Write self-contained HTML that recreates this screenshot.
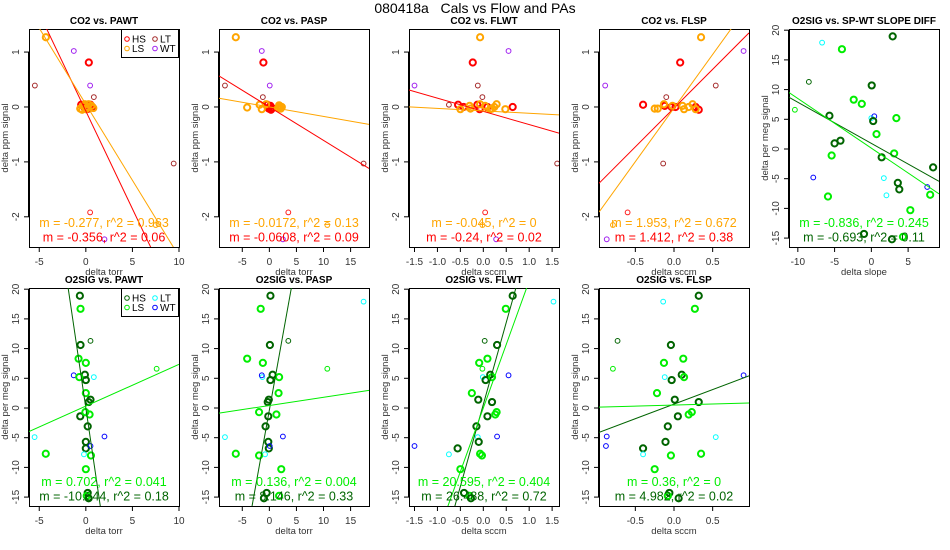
<!DOCTYPE html>
<html><head><meta charset="utf-8"><style>
html,body{margin:0;padding:0;background:#fff;width:950px;height:550px;overflow:hidden;}
svg{display:block;font-family:"Liberation Sans",Arial,sans-serif;overflow:hidden;}
</style></head><body>
<svg id="chart" width="950" height="550" viewBox="0 0 950 550" xmlns="http://www.w3.org/2000/svg">
<rect width="950" height="550" fill="#fff"/>
<text x="475" y="13" font-size="14" text-anchor="middle" fill="#000" style="white-space:pre" xml:space="preserve">080418a   Cals vs Flow and PAs</text>
</svg>
<script>
// ---- data arrays (groups: H=HS thick, L=LS thick, T=LT thin, W=WT thin, h/l thin HS/LS) ----
const p1x=[-4.29,-1.29,0.32,-5.47,0.46,0.86,-0.2,-0.5,-0.2,0.3,0.7,0.5,0.1,-0.6,-0.3,-0.1,0.0,0.3,0.6,0.8,-0.4,0.2,9.43,0.46,7.5,2.0];
const p1y=[1.27,1.02,0.81,0.39,0.39,0.18,0.05,0.04,0,-0.03,0,0.04,-0.04,-0.03,0.02,0.05,-0.04,0.05,0.02,-0.02,-0.05,0,-1.03,-1.92,-2.15,-2.41];
const p1g=['L','W','H','T','W','T','T','H','H','H','H','H','H','L','L','L','L','L','L','L','L','L','T','h','l','W'];
const p2x=[-6.2,-1.4,-1.1,-8.2,0.07,-1.2,-0.3,-0.4,-0.1,0.2,0.5,0.0,0.3,-1.8,-1.4,1.8,2.1,1.6,-0.6,-4.1,2.3,1.9,17.4,3.5,10.7,2.5];
const p2y=[1.27,1.02,0.81,0.39,0.39,0.18,0.05,0.04,-0.03,0.02,-0.02,0,-0.05,0.04,-0.04,0.03,-0.03,-0.02,0.05,-0.01,0,0,-1.03,-1.92,-2.15,-2.41];
const p2g=p1g;
const p3x=[-0.07,0.55,-0.23,-1.5,-0.12,-0.02,-0.75,-0.55,-0.43,-0.13,-0.08,0.09,0.64,-0.5,-0.3,-0.28,-0.07,0.04,0.15,0.24,0.29,0.48,0.19,0.04,1.61,-0.02,0.28];
const p3y=[1.27,1.02,0.81,0.39,0.39,0.18,0.04,0.04,0,0.04,-0.04,0,0,-0.04,0.02,-0.03,0.05,0.02,-0.04,0,0.05,-0.04,-0.03,-1.92,-1.03,-2.15,-2.41];
const p3g=['L','W','H','W','T','T','T','H','H','H','H','H','H','L','L','L','L','L','L','L','L','L','L','h','T','l','W'];
const p4x=[0.35,0.9,0.08,-0.89,0.54,-0.1,-0.4,-0.12,-0.03,0.02,0.28,0.32,-0.25,-0.21,-0.13,-0.02,0.11,0.19,0.24,0.28,0.13,-0.14,-0.6,-0.79,-0.87];
const p4y=[1.27,1.02,0.81,0.39,0.39,0.18,0.04,0.02,0,0,0,-0.05,-0.03,-0.03,0.05,0.02,0.02,0,0.05,-0.04,-0.04,-1.03,-1.92,-2.15,-2.41];
const p4g=['L','W','H','W','T','T','H','H','H','H','H','H','L','L','L','L','L','L','L','L','L','T','h','l','W'];
const p5x=[2.9,-6.7,-4.0,-8.5,0.05,-2.4,-1.3,-10.4,-5.7,0,0.4,0.25,3.4,0.7,-4.2,-5.0,-5.4,1.4,3.1,8.4,-7.9,1.7,3.6,3.8,7.6,2.05,8.0,-5.9,5.3,-1.0,4.3,2.8];
const p5y=[18.96,17.9,16.8,11.3,10.7,8.3,7.6,6.6,5.6,5.2,5.5,4.7,5.2,2.5,1.4,0.95,-1.1,-1.4,-0.75,-3.1,-4.8,-4.9,-5.7,-6.8,-6.4,-7.8,-7.7,-8.0,-10.3,-14.3,-14.8,-15.2];
const p5g=['H','T','L','h','H','L','L','l','H','T','W','H','L','L','H','H','L','H','L','H','W','T','H','H','W','T','L','L','L','H','L','H'];
const o2y=[18.9,16.7,17.9,11.3,10.6,8.3,7.6,6.6,5.2,5.5,5.6,4.7,5.2,2.5,1.4,1.0,-1.4,-0.7,-1.1,-3.1,-4.9,-4.8,-5.7,-6.8,-6.4,-7.8,-7.7,-8.0,-10.3,-14.3,-14.8,-15.2];
const o2g=['H','L','T','h','H','L','L','l','T','W','H','H','L','L','H','H','H','L','L','H','T','W','H','H','W','T','L','L','L','H','L','H'];
const p6x=[-0.64,-0.57,-20,0.5,-0.57,-0.78,0,7.6,0.86,-1.3,-0.1,0,-0.7,0,0.5,0.3,-0.6,-0.05,0.4,0.2,-5.5,2.0,0,0,0.5,-0.2,-4.3,0.55,0,0.2,0.1,0.3];
const p7x=[0.2,-1.6,17.4,3.5,0.1,-4.1,-1.2,10.7,-1.3,-1.4,0.6,0.2,1.8,1.7,-0.1,-0.3,-0.2,-1.9,1.3,-0.7,-8.2,2.5,-0.2,-0.1,0.07,-0.8,-6.2,-1.9,2.2,-0.5,1.8,-1.0];
const p8x=[0.64,0.49,1.53,0.03,0.3,0.09,-0.09,-0.02,-0.01,0.55,0.15,0.05,0.19,-0.25,-0.11,0.19,0.09,0.29,0.26,-0.15,-0.12,0.3,-0.1,-0.56,-1.5,-0.75,-0.07,-0.03,-0.5,-0.42,-0.3,-0.27];
const p9x=[0.32,0.27,-0.14,-0.73,-0.04,0.12,-0.13,-0.79,-0.12,0.9,0.1,-0.03,0.13,-0.22,0.01,0.32,0.05,0.23,0.19,-0.08,0.54,-0.87,-0.11,-0.4,-0.88,-0.4,0.35,-0.04,-0.25,-0.06,-0.08,0.06];
// regression lines [slope, intercept]
const fitLS=[[-0.277,0.05],[-0.0172,0.0],[-0.045,-0.07],[1.953,-0.02],[-0.836,0.14],[0.702,0.32],[0.138,0.42],[21.4,0.0],[0.35,0.49]];
const fitHS=[[-0.356,-0.075],[-0.0608,0.0],[-0.24,-0.08],[1.412,-0.02],[-0.693,0.94],[-10.644,0.0],[5.06,-0.34],[27.6,0.6],[4.9,0.65]];
const txtLS=['m = -0.277, r^2 = 0.963','m = -0.0172, r^2 = 0.13','m = -0.045, r^2 = 0','m = 1.953, r^2 = 0.672','m = -0.836, r^2 = 0.245','m = 0.702, r^2 = 0.041','m = 0.136, r^2 = 0.004','m = 20.595, r^2 = 0.404','m = 0.36, r^2 = 0'];
const txtHS=['m = -0.356, r^2 = 0.06','m = -0.0608, r^2 = 0.09','m = -0.24, r^2 = 0.02','m = 1.412, r^2 = 0.38','m = -0.693, r^2 = 0.11','m = -10.644, r^2 = 0.18','m = 8.146, r^2 = 0.33','m = 26.488, r^2 = 0.72','m = 4.982, r^2 = 0.02'];
const titles=['CO2 vs. PAWT','CO2 vs. PASP','CO2 vs. FLWT','CO2 vs. FLSP','O2SIG vs. SP-WT SLOPE DIFF','O2SIG vs. PAWT','O2SIG vs. PASP','O2SIG vs. FLWT','O2SIG vs. FLSP'];
const xlabels=['delta torr','delta torr','delta sccm','delta sccm','delta slope','delta torr','delta torr','delta sccm','delta sccm'];
const xticks=[[-5,0,5,10],[-5,0,5,10,15],[-1.5,-1,-0.5,0,0.5,1,1.5],[-0.5,0,0.5],[-10,-5,0,5],[-5,0,5,10],[-5,0,5,10,15],[-1.5,-1,-0.5,0,0.5,1,1.5],[-0.5,0,0.5]];
const xtickLabels=[['-5','0','5','10'],['-5','0','5','10','15'],['-1.5','-1.0','-0.5','0.0','0.5','1.0','1.5'],['-0.5','0.0','0.5'],['-10','-5','0','5'],['-5','0','5','10'],['-5','0','5','10','15'],['-1.5','-1.0','-0.5','0.0','0.5','1.0','1.5'],['-0.5','0.0','0.5']];
const yticksCO2=[-2,-1,0,1];
const yticksO2=[-15,-10,-5,0,5,10,15,20];
const xranges=[[-6.1,10],[-9.3,18.4],[-1.62,1.65],[-0.97,0.97],[-11.2,9.2],[-6.1,10],[-9.3,18.4],[-1.62,1.65],[-0.97,0.97]];
const yCO2=[-2.55,1.42], yO2=[-16.5,20.2];

const svg=document.getElementById('chart');
const NS='http://www.w3.org/2000/svg';
function mk(tag,attrs,parent){const e=document.createElementNS(NS,tag);for(const k in attrs)e.setAttribute(k,attrs[k]);(parent||svg).appendChild(e);return e;}

const panelX=[29,219,409,599,789,29,219,409,599];
const panelY=[29,29,29,29,29,288,288,288,288];
const W=150,H=218;
const panels=[[p1x,p1y,p1g],[p2x,p2y,p2g],[p3x,p3y,p3g],[p4x,p4y,p4g],[p5x,p5y,p5g],[p6x,o2y,o2g],[p7x,o2y,o2g],[p8x,o2y,o2g],[p9x,o2y,o2g]];

panels.forEach((pd,i)=>{
  const co2=i<4;
  const X0=panelX[i],Y0=panelY[i];
  const xr=xranges[i], yr=co2?yCO2:yO2;
  const sx=v=>X0+(v-xr[0])/(xr[1]-xr[0])*W;
  const sy=v=>Y0+H-(v-yr[0])/(yr[1]-yr[0])*H;
  const g=mk('g',{});
  
  
  const cid='clip'+i;
  const cp=mk('clipPath',{id:cid},g);mk('rect',{x:X0,y:Y0,width:W,height:H},cp);
  const pal=co2?{H:'#ff0000',L:'#ffa500',T:'#a52a2a',W:'#a020f0',h:'#ff2020',l:'#ffa500'}:{H:'#006400',L:'#00ee00',T:'#00ffff',W:'#0000ff',h:'#006400',l:'#00ee00'};
  const t=mk('text',{x:X0+W/2,y:Y0-5,'font-size':10,'font-weight':'bold','text-anchor':'middle',fill:'#000'},g);
  t.textContent=titles[i];
  
  
  const ax=mk('g',{stroke:'#000','stroke-width':1,fill:'none'},g);
  xticks[i].forEach((v,k)=>{
    const x=sx(v);
    mk('line',{x1:x,y1:Y0+H,x2:x,y2:Y0+H+5},ax);
    const tl=mk('text',{x:x,y:Y0+H+18,'font-size':10,'text-anchor':'middle',fill:'#333',stroke:'none'},g);
    tl.textContent=xtickLabels[i][k];
    
    
  });
  mk('line',{x1:sx(xticks[i][0]),y1:Y0+H+0.5,x2:sx(xticks[i][xticks[i].length-1]),y2:Y0+H+0.5},ax);
  const yt=co2?yticksCO2:yticksO2;
  yt.forEach(v=>{
    const y=sy(v);
    mk('line',{x1:X0-5,y1:y,x2:X0,y2:y},ax);
    const tl=mk('text',{x:X0-10,y:y,'font-size':10,'text-anchor':'middle',fill:'#333',transform:'rotate(-90 '+(X0-10)+' '+y+')'},g);
    tl.textContent=String(v);
    
    
  });
  mk('line',{x1:X0-0.5,y1:sy(yt[0]),x2:X0-0.5,y2:sy(yt[yt.length-1])},ax);
  const xl=mk('text',{x:X0+W/2,y:Y0+H+28,'font-size':9.5,'text-anchor':'middle',fill:'#333'},g);
  xl.textContent=xlabels[i];
  
  
  const ly=Y0+H/2, lx=X0-21;
  const yl=mk('text',{x:lx,y:ly,'font-size':9.5,'text-anchor':'middle',fill:'#333',transform:'rotate(-90 '+lx+' '+ly+')'},g);
  yl.textContent=co2?'delta ppm signal':'delta per meg signal';
  
  
  const box=mk('rect',{x:X0+0.5,y:Y0+0.5,width:W,height:H,fill:'none',stroke:'#000','stroke-width':1},g);
  
  
  const inner=mk('g',{'clip-path':'url(#'+cid+')'},g);
  const [xs,ys,gs]=pd;
  xs.forEach((v,k)=>{
    const gg=gs[k]; const thick=(gg==='H'||gg==='L');
    const c=mk('circle',{cx:sx(v),cy:sy(ys[k]),r:thick?3.1:2.4,fill:'none',stroke:pal[gg],'stroke-width':thick?2:1},inner);
    
    
  });
  [[fitHS[i],pal.H,'fit-line-hs'],[fitLS[i],pal.L,'fit-line-ls']].forEach(([f,col,nm])=>{
    const l=mk('line',{x1:sx(xr[0]),y1:sy(f[0]*xr[0]+f[1]),x2:sx(xr[1]),y2:sy(f[0]*xr[1]+f[1]),stroke:col,'stroke-width':1},inner);
    
    
  });
  const a1=mk('text',{x:X0+W/2,y:Y0+H-20,'font-size':12.5,'text-anchor':'middle',fill:pal.L},g);
  a1.textContent=txtLS[i];
  
  
  const a2=mk('text',{x:X0+W/2,y:Y0+H-5.5,'font-size':12.5,'text-anchor':'middle',fill:pal.H},g);
  a2.textContent=txtHS[i];
  
  
  if(i===0||i===5){
    const lg=mk('g',{},g);
    
    
    mk('rect',{x:X0+92.5,y:Y0+0.5,width:57,height:28,fill:'#fff',stroke:'#000','stroke-width':1},lg);
    [['HS','H',0,0],['LS','L',0,1],['LT','T',1,0],['WT','W',1,1]].forEach(([lab,gg,c,r])=>{
      const ex=X0+98+c*28, ey=Y0+10+r*9.5;
      const e=mk('g',{},lg);
      
      
      mk('circle',{cx:ex,cy:ey,r:2.3,fill:'none',stroke:pal[gg],'stroke-width':1},e);
      const tt=mk('text',{x:ex+5,y:ey+3.5,'font-size':10,fill:'#000'},e);
      tt.textContent=lab;
    });
  }
});
</script>
</body></html>
